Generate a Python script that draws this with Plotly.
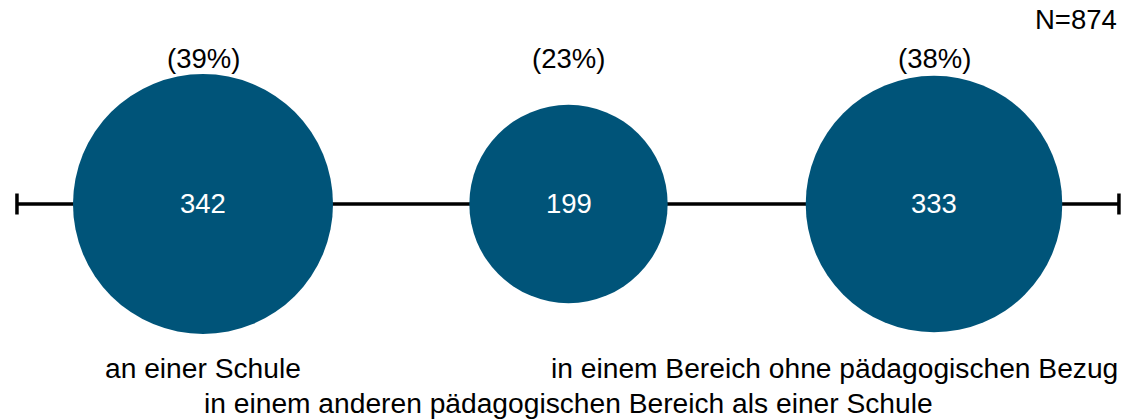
import numpy as np
import plotly.graph_objects as go

categories = ["an einer Schule",
              "in einem anderen pädagogischen Bereich als einer Schule",
              "in einem Bereich ohne pädagogischen Bezug"]
values = [342, 199, 333]
total_n = 874

FONT = "Liberation Sans, Arial, sans-serif"
COLOR = "#005479"
FS = 27.5
FS_CAT = 28.2

vals = np.array(values, dtype=float)
pct = [f"({round(v / total_n * 100):.0f}%)" for v in vals]
xs = list(range(len(values)))
sizes = np.sqrt(vals) * 14.06

fig = go.Figure()

# baseline with end caps
fig.add_trace(go.Scatter(
    x=[-0.509, 2.506], y=[0, 0], mode="lines+markers",
    line=dict(color="black", width=3.5),
    marker=dict(symbol="line-ns", size=15, line=dict(color="black", width=3.5)),
    hoverinfo="skip", showlegend=False))

fig.add_trace(go.Scatter(
    x=xs, y=[0] * len(xs), mode="markers",
    marker=dict(size=sizes, sizemode="diameter", color=COLOR, line=dict(width=0), opacity=1),
    showlegend=False, customdata=categories, text=[str(v) for v in values],
    hovertemplate="%{customdata}: %{text}<extra></extra>"))

annotations = []
for i, (p, v) in enumerate(zip(pct, values)):
    annotations.append(dict(x=i, y=146, xref="x", yref="y", text=p, showarrow=False,
                            xanchor="center", yanchor="middle",
                            font=dict(size=FS, color="black", family=FONT)))
    annotations.append(dict(x=i, y=1, xref="x", yref="y", text=str(v), showarrow=False,
                            xanchor="center", yanchor="middle",
                            font=dict(size=FS, color="white", family=FONT)))

annotations.append(dict(x=0, y=-164, xref="x", yref="y", text=categories[0], showarrow=False,
                        xanchor="center", yanchor="middle",
                        font=dict(size=FS_CAT, color="black", family=FONT)))
annotations.append(dict(x=1, y=-199, xref="x", yref="y", text=categories[1], showarrow=False,
                        xanchor="center", yanchor="middle",
                        font=dict(size=FS_CAT, color="black", family=FONT)))
annotations.append(dict(x=1120 / 1130, y=-164, xref="paper", yref="y", text=categories[2], showarrow=False,
                        xanchor="right", yanchor="middle",
                        font=dict(size=FS_CAT, color="black", family=FONT)))
annotations.append(dict(x=1119 / 1130, y=185, xref="paper", yref="y", text=f"N={total_n}", showarrow=False,
                        xanchor="right", yanchor="middle",
                        font=dict(size=FS, color="black", family=FONT)))

fig.update_layout(
    width=1130, height=420,
    margin=dict(l=0, r=0, t=0, b=0),
    paper_bgcolor="white", plot_bgcolor="white",
    xaxis=dict(range=[-203 / 365.5, (1130 - 203) / 365.5], visible=False, fixedrange=True),
    yaxis=dict(range=[-216, 204], visible=False, fixedrange=True),
    annotations=annotations,
    showlegend=False,
)

fig.write_html("out.html")
